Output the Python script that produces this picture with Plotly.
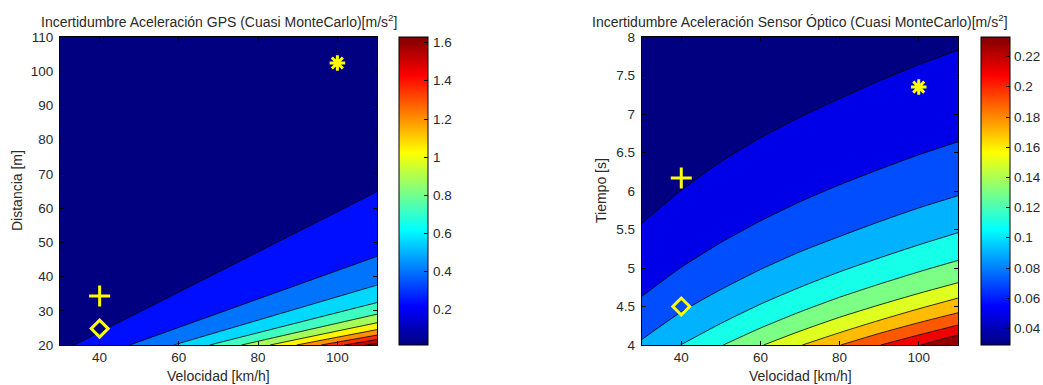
import plotly.graph_objects as go

# ---------------- data ----------------
# Left panel: GPS acceleration uncertainty (contour lines are straight)
gps_levels = [0.16, 0.32, 0.48, 0.64, 0.80, 0.96, 1.12, 1.28, 1.44, 1.60]
gps_line_v_at_bottom = [33.6, 47.6, 58.7, 67.8, 75.8, 83.0, 89.7, 95.9, 101.7, 107.2]   # v where line meets d=20
gps_line_d_at_right = [64.8, 45.9, 37.5, 32.4, 29.0, 26.5, 24.5, 22.9, 21.6, 20.5]      # d where line meets v=110
gps_cmin, gps_cmax = 0.016, 1.63
gps_mark_v = [100, 40, 40]
gps_mark_d = [102.4, 34.3, 24.8]

# Right panel: optical sensor acceleration uncertainty (curved contour lines)
opt_levels = [0.04, 0.06, 0.08, 0.10, 0.12, 0.14, 0.16, 0.18, 0.20, 0.22]
opt_line_v = [
    [30, 40, 50, 60, 70, 80, 90, 100, 110],
    [30, 40, 50, 60, 70, 80, 90, 100, 110],
    [30, 40, 50, 60, 70, 80, 90, 100, 110],
    [39.8, 50, 60, 70, 80, 90, 100, 110],
    [50.6, 60, 70, 80, 90, 100, 110],
    [60.8, 70, 80, 90, 100, 110],
    [70.6, 80, 90, 100, 110],
    [80.3, 90, 100, 110],
    [90.4, 100, 110],
    [100.5, 105, 110],
]
opt_line_t = [
    [5.58, 6.01, 6.38, 6.69, 6.96, 7.20, 7.43, 7.64, 7.83],
    [4.63, 5.01, 5.33, 5.61, 5.86, 6.08, 6.28, 6.47, 6.64],
    [4.07, 4.43, 4.72, 4.98, 5.21, 5.41, 5.60, 5.78, 5.94],
    [4.00, 4.28, 4.53, 4.75, 4.95, 5.13, 5.30, 5.46],
    [4.00, 4.22, 4.43, 4.62, 4.79, 4.95, 5.10],
    [4.00, 4.18, 4.36, 4.52, 4.67, 4.81],
    [4.00, 4.16, 4.32, 4.47, 4.61],
    [4.00, 4.15, 4.29, 4.42],
    [4.00, 4.13, 4.26],
    [4.00, 4.065, 4.13],
]
opt_cmin, opt_cmax = 0.029, 0.233
opt_mark_v = [100, 40, 40]
opt_mark_t = [7.35, 6.17, 4.50]

mark_symbols = ["asterisk-open", "cross-thin-open", "diamond-open"]
mark_sizes = [13, 15, 13]

# axis ranges / ticks
v_range = [30, 110]
gps_d_range = [20, 110]
opt_t_range = [4, 8]
v_ticks = [40, 60, 80, 100]
gps_d_ticks = list(range(20, 111, 10))
opt_t_ticks = [4, 4.5, 5, 5.5, 6, 6.5, 7, 7.5, 8]
gps_cb_ticks = [0.2, 0.4, 0.6, 0.8, 1.0, 1.2, 1.4, 1.6]
gps_cb_labels = ["0.2", "0.4", "0.6", "0.8", "1", "1.2", "1.4", "1.6"]
opt_cb_ticks = [0.04, 0.06, 0.08, 0.10, 0.12, 0.14, 0.16, 0.18, 0.20, 0.22]
opt_cb_labels = ["0.04", "0.06", "0.08", "0.1", "0.12", "0.14", "0.16", "0.18", "0.2", "0.22"]


# ---------------- helpers ----------------
def clip01(x):
    return max(0.0, min(1.0, x))


def jet(f):
    f = clip01(f)
    r = clip01(min(4 * f - 1.5, -4 * f + 4.5))
    g = clip01(min(4 * f - 0.5, -4 * f + 3.5))
    b = clip01(min(4 * f + 0.5, -4 * f + 2.5))
    return "rgb(%d,%d,%d)" % (round(r * 255), round(g * 255), round(b * 255))


jet_scale = [[i / 64, jet(i / 64)] for i in range(65)]


def band_color(lo, hi, cmin, cmax):
    mid = 0.5 * (lo + hi)
    return jet((mid - cmin) / (cmax - cmin))


W, H = 1043, 385
ax1_px = (60, 377)
ax2_px = (641.7, 958.3)
ax_top, ax_bot = 37, 345
ydom = [1 - ax_bot / H, 1 - ax_top / H]
cb1_px = (399, 428)
cb2_px = (981, 1010)

fig = go.Figure()
TXT = "#2a2a2a"
FONT = "Liberation Sans, Arial, sans-serif"
NAVY = jet(0.0)

# ---- left panel bands ----
gps_bounds = [gps_cmin] + gps_levels + [gps_cmax + 0.05]
for k in range(len(gps_levels)):
    col = band_color(gps_bounds[k + 1], gps_bounds[k + 2], gps_cmin, gps_cmax)
    vb, dr = gps_line_v_at_bottom[k], gps_line_d_at_right[k]
    fig.add_trace(go.Scatter(
        x=[vb, v_range[1], v_range[1], vb], y=[gps_d_range[0], dr, gps_d_range[0], gps_d_range[0]],
        fill="toself", fillcolor=col, mode="lines", line=dict(width=0, color=col),
        hoverinfo="skip", showlegend=False, xaxis="x", yaxis="y"))
for k in range(len(gps_levels)):
    fig.add_trace(go.Scatter(
        x=[gps_line_v_at_bottom[k], v_range[1]], y=[gps_d_range[0], gps_line_d_at_right[k]],
        mode="lines", line=dict(color="black", width=0.8),
        hoverinfo="skip", showlegend=False, xaxis="x", yaxis="y"))

# ---- right panel bands ----
opt_bounds = [opt_cmin] + opt_levels + [opt_cmax + 0.005]
for k in range(len(opt_levels)):
    col = band_color(opt_bounds[k + 1], opt_bounds[k + 2], opt_cmin, opt_cmax)
    xs = list(opt_line_v[k]) + [v_range[1], opt_line_v[k][0], opt_line_v[k][0]]
    ys = list(opt_line_t[k]) + [opt_t_range[0], opt_t_range[0], opt_line_t[k][0]]
    fig.add_trace(go.Scatter(
        x=xs, y=ys, fill="toself", fillcolor=col, mode="lines", line=dict(width=0, color=col),
        hoverinfo="skip", showlegend=False, xaxis="x2", yaxis="y2"))
for k in range(len(opt_levels)):
    fig.add_trace(go.Scatter(
        x=opt_line_v[k], y=opt_line_t[k], mode="lines",
        line=dict(color="black", width=0.8, shape="spline", smoothing=0.6),
        hoverinfo="skip", showlegend=False, xaxis="x2", yaxis="y2"))

# ---- markers ----
for i in range(3):
    fig.add_trace(go.Scatter(
        x=[gps_mark_v[i]], y=[gps_mark_d[i]], mode="markers",
        marker=dict(symbol=mark_symbols[i], size=mark_sizes[i], color="#ffff00",
                    line=dict(color="#ffff00", width=3)),
        hoverinfo="skip", showlegend=False, xaxis="x", yaxis="y"))
    fig.add_trace(go.Scatter(
        x=[opt_mark_v[i]], y=[opt_mark_t[i]], mode="markers",
        marker=dict(symbol=mark_symbols[i], size=mark_sizes[i], color="#ffff00",
                    line=dict(color="#ffff00", width=3)),
        hoverinfo="skip", showlegend=False, xaxis="x2", yaxis="y2"))


# ---- colorbars (carried by invisible points) ----
def cbar(x_left_px, ticks):
    return dict(x=x_left_px / W, xanchor="left", xpad=0, ypad=0,
                y=ydom[0], yanchor="bottom", len=ydom[1] - ydom[0], lenmode="fraction",
                thickness=cb1_px[1] - cb1_px[0], thicknessmode="pixels",
                outlinewidth=1, outlinecolor="black",
                ticks="inside", ticklen=4, tickcolor="black", tickwidth=1,
                tickvals=ticks, showticklabels=False)


fig.add_trace(go.Scatter(
    x=[v_range[0]], y=[gps_d_range[0]], mode="markers",
    marker=dict(size=1, opacity=0, color=[gps_cmin], colorscale=jet_scale, cmin=gps_cmin, cmax=gps_cmax,
                showscale=True, colorbar=cbar(cb1_px[0], gps_cb_ticks)),
    hoverinfo="skip", showlegend=False, xaxis="x", yaxis="y"))
fig.add_trace(go.Scatter(
    x=[v_range[0]], y=[opt_t_range[0]], mode="markers",
    marker=dict(size=1, opacity=0, color=[opt_cmin], colorscale=jet_scale, cmin=opt_cmin, cmax=opt_cmax,
                showscale=True, colorbar=cbar(cb2_px[0], opt_cb_ticks)),
    hoverinfo="skip", showlegend=False, xaxis="x2", yaxis="y2"))

axis_common = dict(showline=True, linecolor="black", linewidth=1, mirror="ticks",
                   ticks="inside", ticklen=4, tickcolor="black", tickwidth=1,
                   showgrid=False, zeroline=False, fixedrange=True,
                   tickfont=dict(size=13.5, color=TXT, family=FONT))

fig.update_layout(
    width=W, height=H, margin=dict(l=0, r=0, t=0, b=0, autoexpand=False),
    paper_bgcolor="white", plot_bgcolor=NAVY,
    font=dict(family=FONT, color=TXT),
    xaxis=dict(domain=[ax1_px[0] / W, ax1_px[1] / W], range=v_range, tickvals=v_ticks,
               anchor="y", ticklabelstandoff=0, **axis_common),
    yaxis=dict(domain=ydom, range=gps_d_range, tickvals=gps_d_ticks, anchor="x",
               ticklabelstandoff=3, **axis_common),
    xaxis2=dict(domain=[ax2_px[0] / W, ax2_px[1] / W], range=v_range, tickvals=v_ticks,
                anchor="y2", ticklabelstandoff=0, **axis_common),
    yaxis2=dict(domain=ydom, range=opt_t_range, tickvals=opt_t_ticks, anchor="x2",
                ticklabelstandoff=3, **axis_common),
)


def add_text(text, xpx, ypx, size, xanchor="center", angle=0):
    fig.add_annotation(text=text, x=xpx / W, y=1 - ypx / H, xref="paper", yref="paper",
                       xanchor=xanchor, yanchor="middle", showarrow=False, textangle=angle,
                       font=dict(size=size, color=TXT, family=FONT))


add_text("Incertidumbre Aceleración GPS (Cuasi MonteCarlo)[m/s<sup>2</sup>]",
         (ax1_px[0] + ax1_px[1]) / 2, 21, 14)
add_text("Incertidumbre Aceleración Sensor Óptico (Cuasi MonteCarlo)[m/s<sup>2</sup>]",
         (ax2_px[0] + ax2_px[1]) / 2, 21, 14)
add_text("Velocidad [km/h]", (ax1_px[0] + ax1_px[1]) / 2, 376, 14)
add_text("Velocidad [km/h]", (ax2_px[0] + ax2_px[1]) / 2, 376, 14)
add_text("Distancia [m]", 17, (ax_top + ax_bot) / 2, 14, angle=-90)
add_text("Tiempo [s]", 601, (ax_top + ax_bot) / 2, 14, angle=-90)

# colorbar tick labels
for val, lab in zip(gps_cb_ticks, gps_cb_labels):
    ypx = ax_bot - (val - gps_cmin) / (gps_cmax - gps_cmin) * (ax_bot - ax_top)
    add_text(lab, cb1_px[1] + 3, ypx, 13.5, xanchor="left")
for val, lab in zip(opt_cb_ticks, opt_cb_labels):
    ypx = ax_bot - (val - opt_cmin) / (opt_cmax - opt_cmin) * (ax_bot - ax_top)
    add_text(lab, cb2_px[1] + 2, ypx, 13.5, xanchor="left")

fig.write_html("out.html", config={"displayModeBar": False, "staticPlot": True},
               post_script="document.body.style.margin='0px';document.body.style.overflow='hidden';")
